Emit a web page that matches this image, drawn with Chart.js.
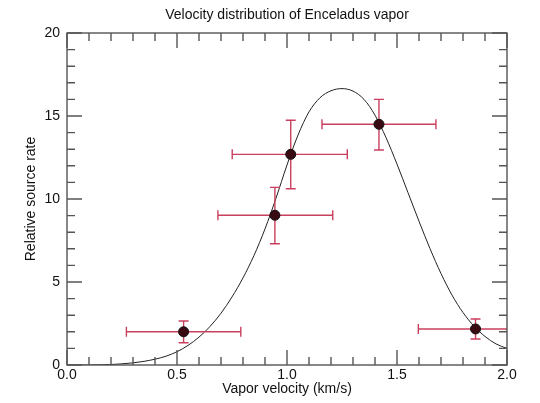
<!DOCTYPE html>
<html>
<head>
<meta charset="utf-8">
<script src="https://cdn.jsdelivr.net/npm/chart.js@4"></script>
<style>
  html, body { margin: 0; padding: 0; background: #fff; }
  #wrap { width: 540px; height: 403px; }
</style>
</head>
<body>
<div id="wrap"><canvas id="grafico"></canvas></div>
<script>
// measured points (km/s, relative source rate) with their error bars
var velX   = [0.53, 0.945, 1.017, 1.418, 1.857];
var rateY  = [2.0, 9.02, 12.69, 14.5, 2.17];
var velLo  = [0.27, 0.686, 0.751, 1.159, 1.597];
var velHi  = [0.79, 1.208, 1.274, 1.677, 2.12];
var rateLo = [1.34, 7.3, 10.62, 12.95, 1.57];
var rateHi = [2.65, 10.7, 14.74, 16.0, 2.77];

// model curve
var curveX = [0.00, 0.05, 0.10, 0.15, 0.20, 0.25, 0.30, 0.35, 0.40, 0.45,
              0.50, 0.55, 0.60, 0.65, 0.70, 0.75, 0.80, 0.85, 0.90, 0.95,
              1.00, 1.05, 1.10, 1.15, 1.20, 1.25, 1.30, 1.35, 1.40, 1.45,
              1.50, 1.55, 1.60, 1.65, 1.70, 1.75, 1.80, 1.85, 1.90, 1.95, 2.00];
var curveY = [0, 0, 0, 0.01, 0.03, 0.07, 0.13, 0.22, 0.35, 0.53,
              0.8, 1.18, 1.68, 2.32, 3.12, 4.1, 5.25, 6.6, 8.2, 10.05,
              12.05, 13.85, 15.25, 16.1, 16.52, 16.65, 16.5, 16.0, 15.05, 13.7,
              12.1, 10.38, 8.66, 7.01, 5.51, 4.21, 3.16, 2.34, 1.72, 1.27, 1.0];

// tick marks
var xMajor = [0, 0.5, 1.0, 1.5, 2.0];
var xMinor = [0.1, 0.2, 0.3, 0.4, 0.6, 0.7, 0.8, 0.9, 1.1, 1.2, 1.3, 1.4, 1.6, 1.7, 1.8, 1.9];
var yMajor = [0, 5, 10, 15, 20];
var yMinor = [1, 2, 3, 4, 6, 7, 8, 9, 11, 12, 13, 14, 16, 17, 18, 19];

var fonte = 'Liberation Sans, Arial, Helvetica, sans-serif';
var corErro = '#c9405e';

// error bars, drawn just before the markers
var barrasErro = {
    id: 'barrasErro',
    beforeDatasetDraw: function(chart, args) {
        if (args.index !== 0) return;
        var ctx = chart.ctx, xs = chart.scales.x, ys = chart.scales.y, a = chart.chartArea;
        ctx.save();
        ctx.beginPath();
        ctx.rect(a.left, a.top, a.right - a.left, a.bottom - a.top);
        ctx.clip();
        ctx.strokeStyle = corErro;
        ctx.lineWidth = 1.4;
        var cap = 5;
        for (var i = 0; i < velX.length; i++) {
            var px = xs.getPixelForValue(velX[i]);
            var py = ys.getPixelForValue(rateY[i]);
            var x0 = xs.getPixelForValue(velLo[i]);
            var x1 = xs.getPixelForValue(velHi[i]);
            var y0 = ys.getPixelForValue(rateLo[i]);
            var y1 = ys.getPixelForValue(rateHi[i]);
            ctx.beginPath();
            ctx.moveTo(x0, py); ctx.lineTo(x1, py);
            ctx.moveTo(x0, py - cap); ctx.lineTo(x0, py + cap);
            ctx.moveTo(x1, py - cap); ctx.lineTo(x1, py + cap);
            ctx.moveTo(px, y0); ctx.lineTo(px, y1);
            ctx.moveTo(px - cap, y0); ctx.lineTo(px + cap, y0);
            ctx.moveTo(px - cap, y1); ctx.lineTo(px + cap, y1);
            ctx.stroke();
        }
        ctx.restore();
    }
};

// box with inward ticks on all four sides
var moldura = {
    id: 'moldura',
    afterDraw: function(chart) {
        var ctx = chart.ctx, xs = chart.scales.x, ys = chart.scales.y, a = chart.chartArea;
        ctx.save();
        ctx.strokeStyle = '#555';
        ctx.lineWidth = 1.4;
        ctx.strokeRect(a.left, a.top, a.right - a.left, a.bottom - a.top);
        ctx.beginPath();
        function xt(list, len) {
            list.forEach(function(v) {
                var p = xs.getPixelForValue(v);
                ctx.moveTo(p, a.bottom); ctx.lineTo(p, a.bottom - len);
                ctx.moveTo(p, a.top); ctx.lineTo(p, a.top + len);
            });
        }
        function yt(list, len) {
            list.forEach(function(v) {
                var p = ys.getPixelForValue(v);
                ctx.moveTo(a.left, p); ctx.lineTo(a.left + len, p);
                ctx.moveTo(a.right, p); ctx.lineTo(a.right - len, p);
            });
        }
        xt(xMajor, 15); xt(xMinor, 8);
        yt(yMajor, 15); yt(yMinor, 8);
        ctx.stroke();
        ctx.restore();
    }
};

var pontos = velX.map(function(v, i) { return {x: v, y: rateY[i]}; });
var curva = curveX.map(function(v, i) { return {x: v, y: curveY[i]}; });

new Chart(document.getElementById('grafico'), {
    type: 'scatter',
    data: {
        datasets: [{
            label: 'Medidas',
            data: pontos,
            pointRadius: 5,
            pointBackgroundColor: '#3a0a12',
            pointBorderColor: '#111',
            pointBorderWidth: 1
        }, {
            label: 'Modelo',
            data: curva,
            showLine: true,
            borderColor: '#222',
            borderWidth: 1,
            pointRadius: 0,
            cubicInterpolationMode: 'monotone'
        }]
    },
    options: {
        responsive: true,
        maintainAspectRatio: false,
        animation: false,
        layout: { padding: { left: 0, right: 33, top: 0, bottom: 0 } },
        plugins: {
            legend: { display: false },
            tooltip: { enabled: false },
            title: {
                display: true,
                fullSize: false,
                text: 'Velocity distribution of Enceladus vapor',
                color: '#111',
                font: { family: fonte, size: 14, weight: 'normal' },
                padding: { top: 6.6, bottom: 9.6 }
            }
        },
        scales: {
            x: {
                type: 'linear',
                min: 0,
                max: 2,
                grid: { display: false, drawTicks: false },
                border: { display: false },
                ticks: {
                    stepSize: 0.5,
                    padding: 2,
                    color: '#111',
                    font: { family: fonte, size: 14 },
                    callback: function(v) { return v.toFixed(1); }
                },
                title: {
                    display: true,
                    text: 'Vapor velocity (km/s)',
                    color: '#111',
                    font: { family: fonte, size: 14 },
                    padding: { top: 0, bottom: 5.6 }
                },
                afterFit: function(s) { s.height = 38; }
            },
            y: {
                type: 'linear',
                min: 0,
                max: 20,
                grid: { display: false, drawTicks: false },
                border: { display: false },
                ticks: {
                    stepSize: 5,
                    padding: 7,
                    color: '#111',
                    font: { family: fonte, size: 14 }
                },
                title: {
                    display: true,
                    text: 'Relative source rate',
                    color: '#111',
                    font: { family: fonte, size: 14 },
                    padding: { top: 22.6, bottom: 0 }
                },
                afterFit: function(s) { s.width = 67; }
            }
        }
    },
    plugins: [barrasErro, moldura]
});
</script>
</body>
</html>
